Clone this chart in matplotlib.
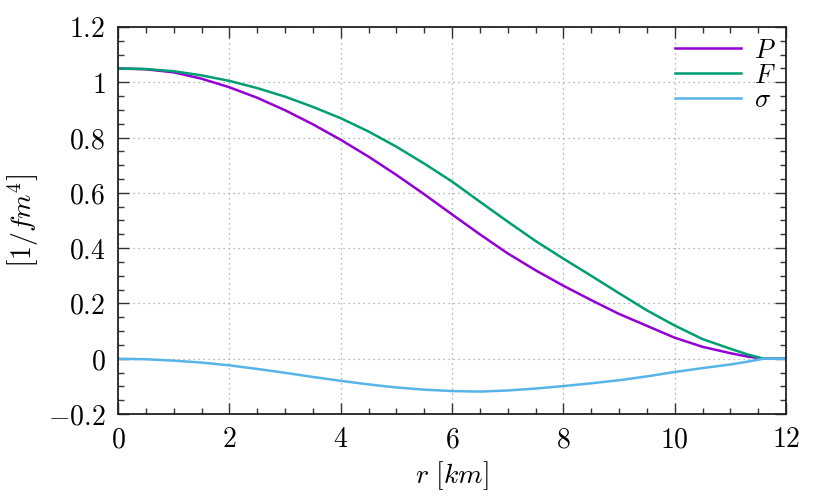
import matplotlib
matplotlib.use("Agg")
import matplotlib.pyplot as plt
from matplotlib.ticker import MultipleLocator, FixedLocator, FuncFormatter

plt.rcParams['mathtext.fontset'] = 'cm'
plt.rcParams['font.family'] = ['DejaVu Serif']

r = [0, 0.5, 1, 1.5, 2, 2.5, 3, 3.5, 4, 4.5, 5, 5.5, 6, 6.5, 7, 7.5, 8,
     8.5, 9, 9.5, 10, 10.5, 11, 11.3, 11.6, 12]
P = [1.05, 1.047, 1.036, 1.013, 0.982, 0.944, 0.899, 0.848, 0.792, 0.731,
     0.665, 0.595, 0.522, 0.450, 0.381, 0.320, 0.264, 0.212, 0.162, 0.119,
     0.076, 0.043, 0.020, 0.008, 0.0, 0.0]
F = [1.05, 1.048, 1.040, 1.025, 1.005, 0.979, 0.948, 0.911, 0.870, 0.822,
     0.767, 0.706, 0.641, 0.568, 0.496, 0.426, 0.362, 0.300, 0.237, 0.175,
     0.120, 0.071, 0.036, 0.016, 0.0, 0.0]
sigma = [0, -0.002, -0.007, -0.014, -0.024, -0.037, -0.051, -0.066, -0.080,
         -0.093, -0.104, -0.112, -0.117, -0.119, -0.115, -0.108, -0.099,
         -0.089, -0.078, -0.064, -0.048, -0.034, -0.021, -0.011, 0.0, 0.0]

xticks = [0, 2, 4, 6, 8, 10, 12]
yticks = [-0.2, 0, 0.2, 0.4, 0.6, 0.8, 1, 1.2]

fig = plt.figure(figsize=(8.3, 4.98), dpi=100)
ax = fig.add_axes([0.1422, 0.1687, 0.8048, 0.7771])

ax.plot(r, P, color='#9400d3', lw=1.8, label='$P$')
ax.plot(r, F, color='#009e73', lw=1.8, label='$F$')
ax.plot(r, sigma, color='#56b4e9', lw=1.8, label=r'$\sigma$')

ax.set_xlim(0, 12)
ax.set_ylim(-0.2, 1.2)
ax.xaxis.set_major_locator(FixedLocator(xticks))
ax.yaxis.set_major_locator(FixedLocator(yticks))
ax.xaxis.set_minor_locator(MultipleLocator(0.5))
ax.yaxis.set_minor_locator(MultipleLocator(0.05))
fmt = FuncFormatter(lambda v, p: '$%g$' % round(v, 3))
ax.xaxis.set_major_formatter(fmt)
ax.yaxis.set_major_formatter(fmt)
ax.tick_params(which='both', direction='in', top=True, right=True,
               labelsize=20, color='#333333')
ax.tick_params(which='major', length=8, width=1, pad=9)
ax.tick_params(which='minor', length=4, width=1)
for s in ax.spines.values():
    s.set_linewidth(1.3)
    s.set_color('#222222')

ax.grid(True, which='major', color='#a0a0a0', lw=0.9, linestyle=(0, (1, 3)))

ax.set_xlabel(r'$r\ [km]$', fontsize=20, labelpad=4)
ax.set_ylabel(r'$\left[1/fm^4\right]$', fontsize=20)
ax.yaxis.set_label_coords(-0.115, 0.5)

ax.legend(loc='upper right', frameon=False, fontsize=19, handlelength=2.5,
          handletextpad=0.5, labelspacing=0.0, borderaxespad=0.0)

fig.savefig('out.png', dpi=100)
